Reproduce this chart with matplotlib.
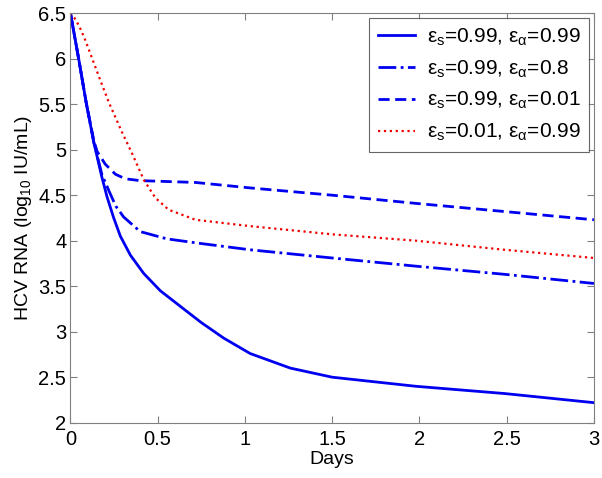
import matplotlib
matplotlib.use("Agg")
import matplotlib.pyplot as plt
import numpy as np

plt.rcParams["font.family"] = ["Liberation Sans", "DejaVu Sans"]
plt.rcParams["mathtext.fontset"] = "custom"
plt.rcParams["mathtext.rm"] = "Liberation Sans"
plt.rcParams["mathtext.it"] = "Liberation Sans"

# days / log10 viral load
t_solid = [0, 0.048, 0.09, 0.134, 0.18, 0.21, 0.248, 0.286, 0.344, 0.42, 0.515,
           0.649, 0.75, 0.878, 1.03, 1.26, 1.5, 1.98, 2.49, 3.0]
v_solid = [6.5, 5.99, 5.52, 5.08, 4.7, 4.48, 4.25, 4.05, 3.84, 3.64, 3.45,
           3.25, 3.1, 2.93, 2.76, 2.6, 2.5, 2.4, 2.32, 2.22]

t_dashdot = [0, 0.048, 0.09, 0.134, 0.18, 0.22, 0.26, 0.305, 0.40, 0.553, 0.744,
             1.03, 1.5, 1.98, 2.49, 3.0]
v_dashdot = [6.5, 5.99, 5.52, 5.08, 4.73, 4.55, 4.38, 4.26, 4.1, 4.02, 3.97,
             3.9, 3.81, 3.72, 3.63, 3.53]

t_dashed = [0, 0.048, 0.09, 0.134, 0.153, 0.2, 0.258, 0.315, 0.4, 0.716, 1.03,
            1.5, 1.98, 2.49, 3.0]
v_dashed = [6.5, 5.99, 5.52, 5.1, 4.98, 4.84, 4.73, 4.68, 4.66, 4.64, 4.58,
            4.5, 4.41, 4.32, 4.23]

t_dotted = [0, 0.01, 0.05, 0.086, 0.162, 0.22, 0.296, 0.353, 0.42, 0.487, 0.563,
            0.716, 1.03, 1.5, 1.98, 2.49, 3.0]
v_dotted = [6.5, 6.49, 6.36, 6.2, 5.81, 5.52, 5.19, 4.96, 4.67, 4.47, 4.34,
            4.23, 4.16, 4.07, 4.0, 3.9, 3.81]

labels = [
    r"$\varepsilon_{\mathrm{s}}$=0.99, $\varepsilon_{\alpha}$=0.99",
    r"$\varepsilon_{\mathrm{s}}$=0.99, $\varepsilon_{\alpha}$=0.8",
    r"$\varepsilon_{\mathrm{s}}$=0.99, $\varepsilon_{\alpha}$=0.01",
    r"$\varepsilon_{\mathrm{s}}$=0.01, $\varepsilon_{\alpha}$=0.99",
]

fig = plt.figure(figsize=(6.02, 4.78), dpi=100)
ax = fig.add_axes([0.117, 0.1157, 0.8696, 0.8567])

ax.plot(t_solid, v_solid, "-", color="#0000f0", lw=2, label=labels[0])
ax.plot(t_dashdot, v_dashdot, "-.", color="#0000f0", lw=2, label=labels[1])
ax.plot(t_dashed, v_dashed, color="#0000f0", lw=2, dashes=(4, 2), label=labels[2])
ax.plot(t_dotted, v_dotted, ":", color="#f00000", lw=1.6, label=labels[3])

ax.set_xlim(0, 3)
ax.set_ylim(2, 6.5)
ax.set_xticks(np.arange(0, 3.01, 0.5))
ax.set_xticklabels(["0", "0.5", "1", "1.5", "2", "2.5", "3"])
ax.set_yticks(np.arange(2, 6.51, 0.5))
ax.set_yticklabels(["2", "2.5", "3", "3.5", "4", "4.5", "5", "5.5", "6", "6.5"])
ax.tick_params(direction="in", top=True, right=True, labelsize=14.5, length=5,
               color="#808080")
ax.tick_params(axis="x", pad=5)
ax.tick_params(axis="y", pad=3)
for s in ax.spines.values():
    s.set_color("#808080")

ax.set_xlabel("Days", fontsize=14, labelpad=2)
ax.set_ylabel(r"HCV RNA (log$_{10}$ IU/mL)", fontsize=14, labelpad=3)

leg = ax.legend(loc="upper right", fontsize=15, frameon=True, fancybox=False,
                edgecolor="#404040", handlelength=1.8, borderaxespad=0.25,
                labelspacing=0.5, handletextpad=0.55, borderpad=0.4)
leg.get_frame().set_linewidth(0.8)

fig.savefig("out.png", dpi=100)
